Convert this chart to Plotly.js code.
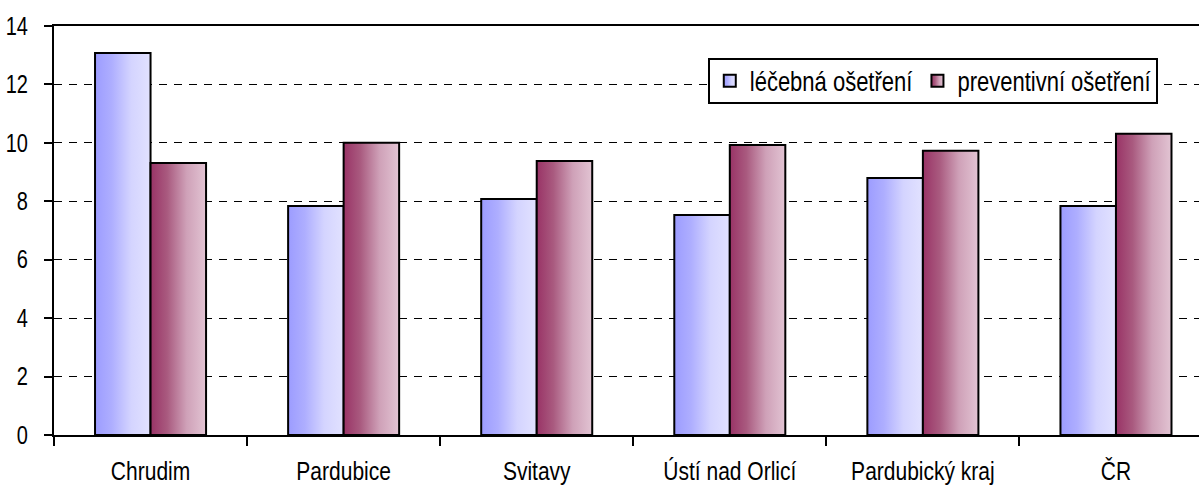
<!DOCTYPE html>
<html>
<head>
<meta charset="utf-8">
<script src="https://cdn.plot.ly/plotly-3.0.1.min.js"></script>
<style>
  html, body { margin: 0; padding: 0; background: #fff; }
</style>
</head>
<body>
<div id="graf"></div>
<script>
// kategorie a hodnoty
var okresy = ['Chrudim', 'Pardubice', 'Svitavy', 'Ústí nad Orlicí', 'Pardubický kraj', 'ČR'];
var lecebna = [13.08, 7.84, 8.08, 7.53, 8.80, 7.84];
var preventivni = [9.31, 10.00, 9.38, 9.93, 9.73, 10.31];

var pismo = '"Liberation Sans", Arial, sans-serif';

var trace1 = {
    type: 'bar',
    x: okresy,
    y: lecebna,
    name: 'léčebná ošetření',
    marker: {
        color: '#c0c0ff',
        line: { color: '#000', width: 2 }
    },
    hoverinfo: 'skip'
};

var trace2 = {
    type: 'bar',
    x: okresy,
    y: preventivni,
    name: 'preventivní ošetření',
    marker: {
        color: '#c08aa5',
        line: { color: '#000', width: 2 }
    },
    hoverinfo: 'skip'
};

var layout = {
    width: 1199,
    height: 488,
    margin: { l: 54, r: 0, t: 26, b: 53 },
    paper_bgcolor: '#fff',
    plot_bgcolor: '#fff',
    font: { family: pismo, size: 21, color: '#000' },
    barmode: 'group',
    bargap: 0.425,
    bargroupgap: 0,
    showlegend: true,
    legend: {
        orientation: 'h',
        x: 0.964,
        xanchor: 'right',
        y: 0.922,
        yanchor: 'top',
        bgcolor: '#fff',
        bordercolor: '#000',
        borderwidth: 2,
        font: { family: pismo, size: 22, color: '#000' },
        itemclick: false
    },
    xaxis: {
        type: 'category',
        range: [-0.5, 5.43],
        showline: true,
        linecolor: '#000',
        linewidth: 2,
        mirror: true,
        showgrid: false,
        ticks: 'outside',
        tickson: 'boundaries',
        ticklen: 9,
        tickwidth: 2,
        tickcolor: '#000',
        ticklabelstandoff: 16,
        tickfont: { family: pismo, size: 21, color: '#000' }
    },
    yaxis: {
        range: [0, 14],
        dtick: 2,
        showline: true,
        linecolor: '#000',
        linewidth: 2,
        zeroline: false,
        showgrid: true,
        gridcolor: '#000',
        gridwidth: 1,
        griddash: '8px,7px',
        ticks: 'outside',
        ticklen: 8,
        tickwidth: 2,
        tickcolor: '#000',
        ticklabelstandoff: 12,
        tickfont: { family: pismo, size: 20, color: '#000' }
    }
};

// přechody barev jako v původním grafu
var prechody = [
    { id: 'grad0', stops: [['0%', '#9c9cff'], ['30%', '#aeaeff'], ['65%', '#d4d4ff'], ['100%', '#e2e2ff']] },
    { id: 'grad1', stops: [['0%', '#993366'], ['30%', '#a95a7f'], ['65%', '#cfa1b8'], ['100%', '#e2c4d3']] }
];

function pridejPrechody(gd) {
    var ns = 'http://www.w3.org/2000/svg';
    var svg = gd.querySelector('.main-svg');
    var defs = svg.querySelector('defs');
    if (!defs) {
        defs = document.createElementNS(ns, 'defs');
        svg.insertBefore(defs, svg.firstChild);
    }
    prechody.forEach(function (p) {
        var g = document.createElementNS(ns, 'linearGradient');
        g.setAttribute('id', p.id);
        g.setAttribute('x1', '0');
        g.setAttribute('x2', '1');
        g.setAttribute('y1', '0');
        g.setAttribute('y2', '0');
        p.stops.forEach(function (s) {
            var st = document.createElementNS(ns, 'stop');
            st.setAttribute('offset', s[0]);
            st.setAttribute('stop-color', s[1]);
            g.appendChild(st);
        });
        defs.appendChild(g);
    });

    gd.querySelectorAll('.barlayer .trace').forEach(function (tr, i) {
        tr.querySelectorAll('.point path').forEach(function (el) {
            el.style.fill = 'url(#grad' + i + ')';
        });
    });
    gd.querySelectorAll('.legend .traces').forEach(function (tr, i) {
        tr.querySelectorAll('.legendpoints path').forEach(function (el) {
            el.style.fill = 'url(#grad' + i + ')';
        });
    });

    // písmo v originále je svisle protažené
    gd.querySelectorAll('.xtick text, .ytick text, .legendtext').forEach(function (t) {
        var b = t.getBBox();
        var cx = b.x + b.width / 2, cy = b.y + b.height / 2;
        var tf = t.getAttribute('transform') || '';
        t.setAttribute('transform', tf + ' translate(' + cx + ',' + cy + ') scale(1,1.25) translate(' + (-cx) + ',' + (-cy) + ')');
    });
}

Plotly.newPlot('graf', [trace1, trace2], layout, { displayModeBar: false, staticPlot: true })
    .then(pridejPrechody);
</script>
</body>
</html>
